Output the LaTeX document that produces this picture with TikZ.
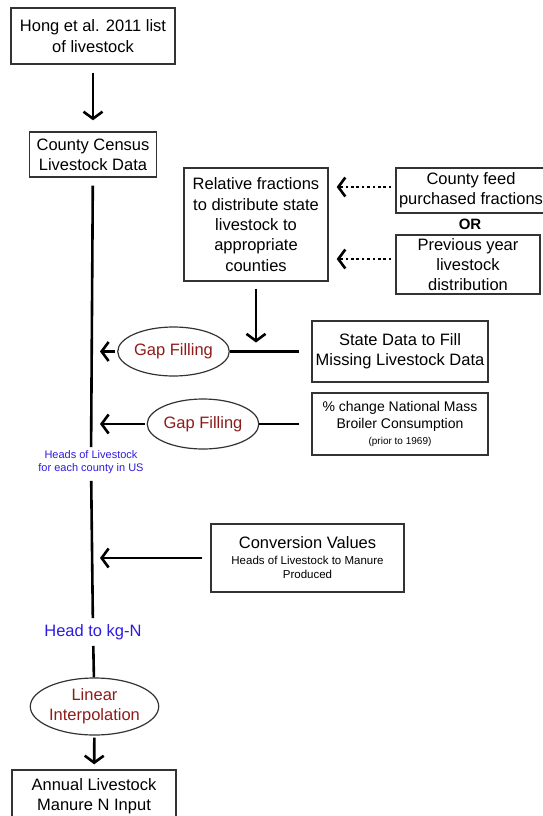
\documentclass[tikz,border=0pt]{standalone}
\usepackage{fontspec}
\setmainfont{Liberation Sans}
\usetikzlibrary{arrows.meta,shapes.geometric}
\definecolor{gapred}{HTML}{8E1B1B}
\definecolor{noteblue}{HTML}{2E1CE0}

\begin{document}
\begin{tikzpicture}[x=1pt,y=-1pt,
                    line width=2.6pt,
                    >={Straight Barb[length=7pt,width=19pt]}]
    \tikzstyle{box}=[draw=black!80,line width=1.4pt,align=center,inner sep=2pt,
                     font=\fontsize{16.5}{20.3}\selectfont]
    \tikzstyle{gapfill}=[ellipse,draw=black!80,line width=1.2pt,inner sep=0pt,align=center,
                         text=gapred,font=\fontsize{16.5}{20.3}\selectfont]
    \tikzstyle{note}=[fill=white,text=noteblue,align=center,inner sep=2pt];
    \tikzstyle{hint}=[->,dash pattern=on 2.6pt off 2.8pt];

    \useasboundingbox (0,0) rectangle (542,816);

    % main column
    \node[box,minimum width=164pt,minimum height=56pt] (hong) at (93,36) {Hong et al. 2011 list\\of livestock};
    \node[box,minimum width=127pt,minimum height=45pt] (census) at (93,154.5) {County Census\\Livestock Data};
    \node[note,font=\fontsize{11}{13}\selectfont] (heads) at (91,462) {Heads of Livestock\\for each county in US};
    \node[note,font=\fontsize{16.5}{20}\selectfont] (kgn) at (93,632) {Head to kg-N};
    \node[gapfill,minimum width=115pt,minimum height=57pt] (interp) at (94.5,706.5) {Linear\\Interpolation};
    \node[box,minimum width=164pt,minimum height=52pt] (annual) at (94,796) {Annual Livestock\\Manure N Input};

    % inputs on the right
    \node[box,minimum width=144pt,minimum height=113pt] (frac) at (256,224.5) {Relative fractions\\to distribute state\\livestock to\\appropriate\\counties};
    \node[box,minimum width=150pt,minimum height=45pt] (feed) at (471,190.5) {County feed\\purchased fractions};
    \node[font=\bfseries\fontsize{15}{18}\selectfont] (or) at (470,224) {OR};
    \node[box,minimum width=144pt,minimum height=59pt] (prev) at (468,264.5) {Previous year\\livestock\\distribution};
    \node[box,minimum width=176pt,minimum height=61pt] (state) at (400,351.5) {State Data to Fill\\Missing Livestock Data};
    \node[gapfill,minimum width=93pt,minimum height=49pt] (gap1) at (173.5,351.5) {Gap Filling};
    \node[box,minimum width=176pt,minimum height=62pt,font=\fontsize{14}{16.5}\selectfont] (broiler) at (400,424)
        {\% change National Mass\\Broiler Consumption\\{\fontsize{10}{12}\selectfont (prior to 1969)}};
    \node[gapfill,minimum width=92pt,minimum height=50pt] (gap2) at (203,424) {Gap Filling};
    \node[box,minimum width=193pt,minimum height=68pt,font=\fontsize{11.5}{14}\selectfont] (conv) at (307.5,558)
        {{\fontsize{16.5}{18}\selectfont Conversion Values}\\[2pt]Heads of Livestock to Manure\\Produced};

    % connectors
    \draw[->,shorten <=8pt,shorten >=11pt] (hong) -- (census);
    \draw[shorten <=8pt] (census) -- (heads);
    \draw[shorten <=4pt,shorten >=3pt] (heads) -- (kgn);
    \draw[shorten <=3pt] (kgn) -- (interp);
    \draw[->,shorten <=2pt,shorten >=5pt] (interp) -- (annual);

    \draw[hint,shorten <=4pt,shorten >=8pt] ([yshift=3.5pt]feed.west) -- ([yshift=3.5pt]feed.west -| frac.east);
    \draw[hint,shorten <=4pt,shorten >=8pt] ([yshift=5.5pt]prev.west) -- ([yshift=5.5pt]prev.west -| frac.east);
    \draw[->,shorten <=7pt,shorten >=9pt] (frac) -- (frac |- state);

    \draw[shorten <=12pt] (state) -- (gap1);
    \draw[->,shorten <=2pt,shorten >=7pt] (gap1) -- (gap1 -| census);
    \draw[shorten <=12pt] (broiler) -- (gap2);
    \draw[->,shorten <=2pt,shorten >=7pt] (gap2) -- (gap2 -| census);
    \draw[->,shorten <=8pt,shorten >=7pt] (conv) -- (conv -| census);

\end{tikzpicture}
\end{document}
